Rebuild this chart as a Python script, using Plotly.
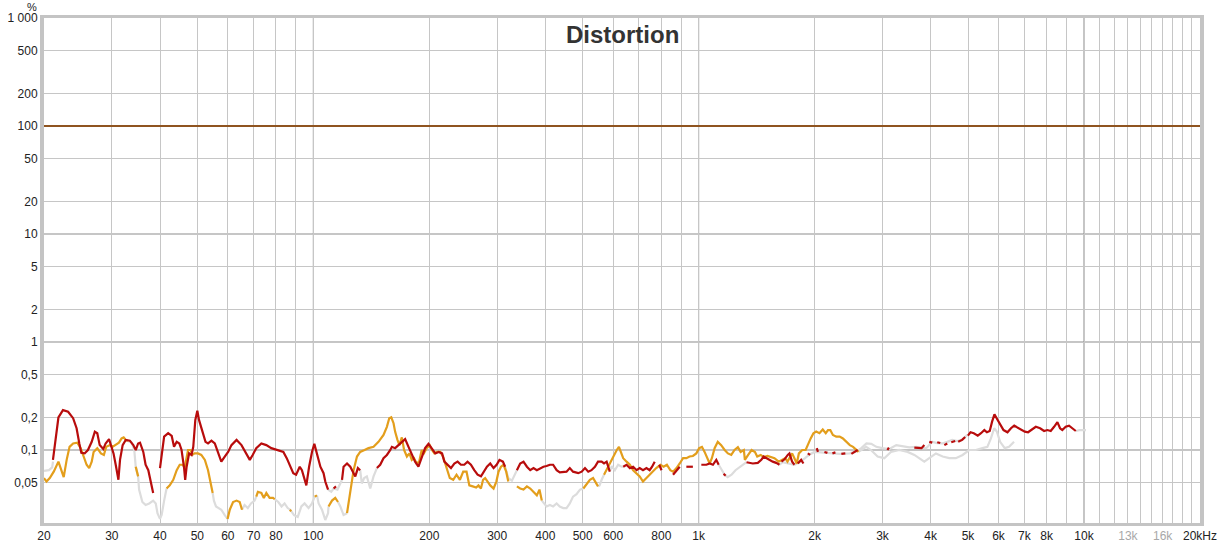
import plotly.graph_objects as go

# ---------------- data (Hz, %) ----------------
red_freq = [21.1, 21.5, 21.8, 22.4, 23.1, 23.8, 24.3, 24.7, 25.0, 25.5, 26.0, 26.6, 27.1, 27.5, 27.9, 28.5, 28.9, 29.5, 29.9,
            30.3, 30.7, 31.2, 31.5, 32.0, 32.6, 33.4, 34.1, 34.6, 35.1, 35.5, 36.2, 36.7, 37.3, 37.9, 38.4, None,
            40.0, 41.0, 42.0, 42.9, 43.5, 44.2, 44.9, 45.5, 46.2, 46.5, 46.9, 47.6, 48.3, 48.8, 49.4, 50.0, 50.5, 51.5,
            52.5, 53.3, 54.4, 55.5, 56.6, 57.7, 58.9, 60.1, 61.3, 63.2, 65.1, 67.1, 68.4, 69.6, 71.1, 73.3, 75.5, 77.8,
            81.1, 83.6, 85.3, 87.0, 88.7, 90.2, 92.2, 93.4, 94.6, 95.9, 97.5, 99.2, 100.6, 102.2, 104.3, 106.3, 107.4,
            109.2, None, 112.9, 114.5, None, 118.7, 119.8, 122.3, 124.7, 127.2, 128.5, 130.5, 132.3, None,
            146.2, 149.1, 152.1, 155.2, 158.4, 159.9, 163.0, 166.3, 169.7, 173.1, 176.6, 180.1, 183.7, 187.4, 191.1,
            195.0, 199.0, 203.2, 207.3, 211.5, 215.8, 218.8, 223.1, 227.6, 232.2, 236.8, 241.6, 246.4, 251.3, 256.4,
            261.6, 266.9, 272.3, 277.7, 282.2, 287.8, 293.6, 299.0, 304.1, 310.4, 314.6, None,
            337.5, 344.2, 351.1, 358.3, 365.5, 372.7, 380.2, 387.7, 395.5, 403, 411, 419, 428, 436, 445, 454, 463, 472,
            487, 497, 507, 517, 527, 538, 548, 560, 568, 577, 588, None,
            637, 650, 663, 676, 690, 703, 717, 732, 746, 757, 769, None, 790, 801, None, 858, 876, 893, None,
            929, 966, None, 1016, 1047, 1068, 1089, 1111, 1127, None, 1160, 1175, None,
            1331, 1382, 1424, 1454, 1474, 1497, 1527, 1557, 1589, 1621, None, 1640, 1670, 1703, 1720, 1748, 1772, None,
            1808, 1845, 1870, None, 1919, 1947, None, 2025, 2040, None, 2120, 2158, None, 2224, 2264, None,
            2346, 2402, None, 2490, 2536, 2586, None, 3089, 3117, None, 3628, 3700, 3788, 3852, None, 3967, 4038, None,
            4160, 4236, None, 4340, 4417, None, 4524, 4632, None, 4715, 4827, 4916, None,
            4996, 5075, 5176, 5300, 5404, 5513, 5599, 5693, 5774, 5856, 5948, 6061, 6182, 6331, 6463, 6590, 6749,
            6883, 7021, 7159, 7302, 7497, 7693, 7878, 8034, 8197, 8363, 8530, 8666, 8785, 8965, 9146, 9325, 9521]
red_val = [0.081, 0.144, 0.200, 0.234, 0.226, 0.197, 0.159, 0.115, 0.094, 0.093, 0.100, 0.119, 0.148, 0.143, 0.111, 0.102,
           0.115, 0.126, 0.107, 0.093, 0.073, 0.053, 0.081, 0.111, 0.124, 0.122, 0.111, 0.100, 0.115, 0.117, 0.096, 0.073,
           0.065, 0.051, 0.040, None,
           0.068, 0.133, 0.143, 0.135, 0.107, 0.119, 0.115, 0.100, 0.068, 0.053, 0.070, 0.093, 0.090, 0.107, 0.190, 0.231,
           0.190, 0.148, 0.119, 0.115, 0.122, 0.115, 0.096, 0.078, 0.087, 0.096, 0.111, 0.124, 0.111, 0.090, 0.081, 0.090,
           0.104, 0.115, 0.111, 0.104, 0.100, 0.096, 0.084, 0.070, 0.061, 0.059, 0.070, 0.065, 0.055, 0.047, 0.070, 0.096,
           0.114, 0.093, 0.070, 0.061, 0.051, 0.043, None, 0.044, 0.046, None, 0.053, 0.070, 0.075, 0.070, 0.061, 0.057,
           0.068, 0.065, None,
           0.068, 0.073, 0.084, 0.090, 0.100, 0.107, 0.104, 0.111, 0.119, 0.126, 0.107, 0.090, 0.078, 0.070, 0.084,
           0.104, 0.114, 0.104, 0.093, 0.096, 0.093, 0.078, 0.073, 0.068, 0.075, 0.078, 0.073, 0.073, 0.078, 0.073,
           0.065, 0.059, 0.057, 0.063, 0.070, 0.075, 0.068, 0.073, 0.081, 0.078, 0.070, None,
           0.065, 0.075, 0.078, 0.070, 0.065, 0.068, 0.065, 0.068, 0.070, 0.071, 0.073, 0.073, 0.065, 0.062, 0.063, 0.063,
           0.068, 0.063, 0.061, 0.063, 0.068, 0.063, 0.065, 0.070, 0.078, 0.078, 0.075, 0.078, 0.063, None,
           0.070, 0.073, 0.068, 0.070, 0.065, 0.068, 0.065, 0.068, 0.065, 0.070, 0.078, None, 0.073, 0.065, None,
           0.059, 0.065, 0.070, None,
           0.070, 0.070, None, 0.073, 0.073, 0.075, 0.073, 0.081, 0.073, None, 0.060, 0.058, None,
           0.077, 0.075, 0.076, 0.081, 0.087, 0.084, 0.081, 0.078, 0.076, 0.073, None, 0.078, 0.082, 0.090, 0.093, 0.078,
           0.073, None, 0.075, 0.081, 0.075, None, 0.093, 0.090, None, 0.104, 0.096, None, 0.096, 0.094, None,
           0.093, 0.095, None, 0.092, 0.093, None, 0.092, 0.096, 0.100, None, 0.100, 0.105, None, 0.105, 0.104, 0.104,
           0.111, None, 0.119, 0.117, None, 0.118, 0.116, None, 0.111, 0.115, None, 0.118, 0.121, None, 0.119, 0.124,
           0.132, None,
           0.136, 0.146, 0.143, 0.136, 0.143, 0.153, 0.146, 0.150, 0.183, 0.214, 0.194, 0.170, 0.153, 0.146, 0.159, 0.168,
           0.161, 0.156, 0.148, 0.146, 0.153, 0.164, 0.159, 0.150, 0.153, 0.150, 0.164, 0.181, 0.159, 0.153, 0.164,
           0.168, 0.159, 0.150]

orange_freq = [20.0, 20.3, 20.7, 21.2, 21.8, 22.2, 22.5, 22.9, 23.3, 23.8, 24.4, 24.9, 25.3, 25.8, 26.2, 26.6, 26.9,
               27.5, 28.1, 28.6, 29.0, 29.7, 30.1, 30.7, 31.3, 31.8, 32.2, 32.6, 33.0, None, 34.6, 35.1, None,
               41.6, 42.4, 43.3, 44.2, 45.0, 45.7, 46.4, 46.9, 47.3, 48.0, 48.5, 49.2, 50.2, 51.2, 52.3, 53.3, 54.1,
               54.8, None, 59.9, 60.7, 61.9, 63.2, 64.4, 65.3, None, 71.1, 71.8, 73.3, 74.4, 75.5, 77.0, 78.6, 79.4,
               None, 86.9, 87.6, None, 100.8, 102.2, None, 109.5, 111.8, 114.0, 115.9, None,
               122.3, 124.7, 127.2, 129.8, 132.3, 135.8, 139.0, 143.3, 147.6, 152.1, 155.2, 157.4, 159.3, 161.5, 163.0,
               165.3, 167.3, 169.7, 172.0, 174.9, 177.6, 180.1, 182.5, 185.4, 188.2, 191.1, 193.6, 196.8, 200.4, 203.2,
               206.1, 209.4, 213.6, 217.0, 221.5, 226.0, 230.7, 235.3, 240.1, 244.9, 249.8, 254.0, 259.2, 264.6, 268.2,
               272.2, 275.7, 279.2, 283.3, 287.8, 293.6, 298.5, 302.4, 306.9, 311.6, 316.6, 320.6, None,
               337.5, 344.2, 351.1, 358.3, 365.5, 372.7, 380.2, 386.2, 391.7, None,
               502, 512, 522, 532, 543, 548, None,
               568, 582, 594, 604, 613, 621, 628, 637, 650, 663, 676, 690, 703, 717, 732, 746, 761, 776, 796, 811, 827,
               844, 858, 876, 893, 911, 929, 947, 966, 986, 1003, 1020, 1036, 1053, 1068, 1082, 1100, 1121, 1144, 1168,
               1191, 1215, 1239, 1264, 1285, 1310, 1318, 1344, 1372, 1400, 1419, 1449, 1474, 1509, 1536, 1573, 1613,
               1645, 1677, 1700, 1725, 1748, 1772, 1797, 1820, 1857, 1895, 1925, 1953, 1985, 2018, 2058, 2099, 2137,
               2166, 2196, 2230, 2276, 2322, 2368, 2415, 2467, 2516, 2566, 2600]
orange_val = [0.055, 0.051, 0.055, 0.063, 0.078, 0.063, 0.056, 0.081, 0.107, 0.115, 0.117, 0.104, 0.090, 0.073, 0.068,
              0.078, 0.096, 0.104, 0.093, 0.090, 0.107, 0.111, 0.107, 0.111, 0.117, 0.128, 0.131, 0.124, 0.121, None,
              0.070, 0.057, None,
              0.044, 0.047, 0.053, 0.065, 0.073, 0.073, 0.070, 0.087, 0.100, 0.100, 0.090, 0.093, 0.093, 0.090, 0.081,
              0.065, 0.051, 0.040, None, 0.023, 0.028, 0.033, 0.034, 0.033, 0.028, None, 0.037, 0.041, 0.040, 0.036,
              0.040, 0.036, 0.036, 0.035, None, 0.028, 0.027, None, 0.037, 0.038, None, 0.030, 0.034, 0.036, 0.033, None,
              0.026, 0.043, 0.065, 0.087, 0.096, 0.100, 0.104, 0.107, 0.119, 0.138, 0.164, 0.197, 0.201, 0.177, 0.148,
              0.124, 0.111, 0.131, 0.100, 0.087, 0.093, 0.081, 0.084, 0.075, 0.078, 0.100, 0.093, 0.104, 0.111, 0.100,
              0.093, 0.096, 0.096, 0.087, 0.068, 0.055, 0.053, 0.059, 0.053, 0.063, 0.063, 0.047, 0.046, 0.045, 0.047,
              0.044, 0.053, 0.055, 0.051, 0.047, 0.044, 0.051, 0.063, 0.070, 0.073, 0.063, 0.051, None,
              0.046, 0.044, 0.043, 0.046, 0.044, 0.041, 0.038, 0.043, 0.034, None,
              0.044, 0.049, 0.053, 0.055, 0.049, 0.046, None,
              0.059, 0.070, 0.081, 0.093, 0.100, 0.107, 0.096, 0.084, 0.078, 0.073, 0.065, 0.061, 0.057, 0.051, 0.055,
              0.059, 0.063, 0.068, 0.073, 0.070, 0.073, 0.065, 0.063, 0.068, 0.075, 0.084, 0.084, 0.087, 0.088, 0.093,
              0.104, 0.107, 0.096, 0.084, 0.075, 0.084, 0.104, 0.119, 0.111, 0.100, 0.093, 0.090, 0.100, 0.106, 0.096,
              0.100, 0.081, 0.090, 0.100, 0.096, 0.087, 0.090, 0.086, 0.088, 0.086, 0.084, 0.078, 0.081, 0.084, 0.078,
              0.087, 0.093, 0.084, 0.075, 0.093, 0.100, 0.100, 0.115, 0.128, 0.143, 0.148, 0.143, 0.155, 0.143, 0.153,
              0.153, 0.138, 0.133, 0.133, 0.128, 0.119, 0.111, 0.107, 0.100, 0.096]

grey_freq = [20.0, 20.6, 21.0, 21.1, None,
             33.0, 33.7, 34.3, 34.6, 35.1, 35.3, 36.0, 36.7, 37.5, 38.4, 39.0, 39.4, 40.0, 40.4, 41.0, 41.6, None,
             54.8, 55.2, 55.9, 56.6, 57.7, 58.9, 59.9, None, 65.3, 66.3, 67.6, 68.9, 70.4, 71.1, None,
             79.4, 81.1, 82.7, 84.2, 85.8, 87.1, 89.1, 91.1, 93.1, 94.9, 97.2, 99.2, 100.8, None,
             102.2, 103.2, 105.3, 107.4, 109.2, 109.5, None, 115.9, 117.5, 119.8, 122.3, None,
             109.2, 111.3, 112.9, 115.5, 118.7, None,
             132.3, 133.6, 135.5, 137.7, 140.5, 143.3, 146.2, None,
             314.6, 320.6, 327.6, 337.5, None,
             391.7, 403, 411, 419, 428, 436, 445, 454, 463, 472, 482, 492, 502, None, 548, 553, 560, 568, None,
             588, 595, 606, 618, 631, 637, None,
             1127, 1148, 1168, 1189, 1217, 1246, 1277, 1309, 1331, None,
             1621, 1652, 1772, 1826, 1889, 1932, 1997, 2058, 2188, 2322, 2467, 2580, 2643, 2725, 2806, 2891, 2996, 3124,
             3257, 3375, 3520, 3673, 3803, 3896, 4038, 4160, 4287, 4417, 4551, 4689, 4830, 4976, None,
             2600, 2720, 2800, 2913, 3032, 3155, 3316, 3484, 3629, 3735, 3851, 3967, 4128, 4297, 4469, 4651, 4842,
             5036, 5240, 5451, 5614, 5733, 5847, 5941, 6058, 6227, 6390, 6583, None,
             9521, 9730, 10000, 10120]
grey_val = [0.064, 0.065, 0.069, 0.078, None,
            0.121, 0.119, 0.100, 0.070, 0.057, 0.043, 0.033, 0.031, 0.032, 0.034, 0.032, 0.026, 0.023, 0.025, 0.034,
            0.044, None,
            0.040, 0.034, 0.030, 0.029, 0.028, 0.025, 0.023, None, 0.028, 0.031, 0.029, 0.032, 0.034, 0.037, None,
            0.035, 0.033, 0.030, 0.032, 0.029, 0.028, 0.025, 0.024, 0.030, 0.032, 0.029, 0.032, 0.037, None,
            0.038, 0.032, 0.028, 0.0225, 0.026, 0.030, None, 0.033, 0.030, 0.025, 0.026, None,
            0.043, 0.041, 0.044, 0.043, 0.053, None,
            0.065, 0.049, 0.055, 0.057, 0.044, 0.057, 0.068, None,
            0.070, 0.055, 0.052, 0.065, None,
            0.034, 0.030, 0.031, 0.030, 0.032, 0.030, 0.029, 0.029, 0.032, 0.037, 0.039, 0.043, 0.044, None,
            0.046, 0.047, 0.053, 0.059, None,
            0.063, 0.071, 0.065, 0.073, 0.070, 0.070, None,
            0.073, 0.065, 0.059, 0.056, 0.059, 0.065, 0.070, 0.074, 0.077, None,
            0.073, 0.077, 0.073, 0.077, 0.084, 0.090, 0.096, 0.095, 0.093, 0.092, 0.093, 0.098, 0.104, 0.115, 0.114,
            0.107, 0.104, 0.102, 0.111, 0.109, 0.106, 0.107, 0.104, 0.104, 0.119, 0.116, 0.115, 0.119, 0.124, 0.121,
            0.124, 0.138, None,
            0.096, 0.107, 0.100, 0.087, 0.084, 0.096, 0.100, 0.096, 0.090, 0.084, 0.078, 0.084, 0.093, 0.087, 0.084,
            0.084, 0.090, 0.100, 0.100, 0.104, 0.107, 0.128, 0.159, 0.148, 0.119, 0.104, 0.107, 0.119, None,
            0.150, 0.153, 0.153, 0.153]

LIMIT_LINE = 100

x_tick_vals = [20, 30, 40, 50, 60, 70, 80, 100, 200, 300, 400, 500, 600, 800, 1000, 2000, 3000, 4000, 5000, 6000,
               7000, 8000, 10000, 13000, 16000, 20000]
x_tick_text = ["20", "30", "40", "50", "60", "70", "80", "100", "200", "300", "400", "500", "600", "800", "1k",
               "2k", "3k", "4k", "5k", "6k", "7k", "8k", "10k",
               "<span style='color:#a8a8a8'>13k</span>", "<span style='color:#a8a8a8'>16k</span>", "20kHz"]
x_minor_vals = [90, 700, 900, 9000, 11000, 12000, 14000, 15000, 17000, 18000, 19000]
x_major_lines = [100, 1000, 10000]

y_tick_vals = [1000, 500, 200, 100, 50, 20, 10, 5, 2, 1, 0.5, 0.2, 0.1, 0.05]
y_tick_text = ["1 000", "500", "200", "100", "50", "20", "10", "5", "2", "1", "0,5", "0,2", "0,1", "0,05"]
y_major_lines = [10, 1, 0.1]

# ---------------- figure ----------------
fig = go.Figure()
fig.add_trace(go.Scatter(x=grey_freq, y=grey_val, mode="lines", line=dict(color="#dcdcdc", width=2.2),
                         connectgaps=False, hoverinfo="skip", showlegend=False))
fig.add_trace(go.Scatter(x=orange_freq, y=orange_val, mode="lines", line=dict(color="#e39e1c", width=2.2),
                         connectgaps=False, showlegend=False))
fig.add_trace(go.Scatter(x=red_freq, y=red_val, mode="lines", line=dict(color="#b80c0c", width=2.2),
                         connectgaps=False, showlegend=False))

for xv in x_major_lines:
    fig.add_shape(type="line", xref="x", yref="paper", x0=xv, x1=xv, y0=0, y1=1,
                  line=dict(color="#8a8a8a", width=1), layer="between")
for yv in y_major_lines:
    fig.add_shape(type="line", xref="paper", yref="y", x0=0, x1=1, y0=yv, y1=yv,
                  line=dict(color="#8a8a8a", width=1), layer="between")
fig.add_shape(type="line", xref="paper", yref="y", x0=0, x1=1, y0=LIMIT_LINE, y1=LIMIT_LINE,
              line=dict(color="#8f5420", width=2), layer="above")

font_family = "Liberation Sans, Arial, sans-serif"
fig.update_layout(
    template="none",
    width=1222, height=546,
    margin=dict(l=44, r=22, t=18, b=23, pad=0),
    paper_bgcolor="white", plot_bgcolor="white",
    font=dict(family=font_family, size=12, color="#222222"),
    showlegend=False,
)
fig.update_xaxes(
    type="log", range=[1.30103, 4.30103], autorange=False,
    tickmode="array", tickvals=x_tick_vals, ticktext=x_tick_text,
    showgrid=True, gridcolor="#c6c6c6", gridwidth=1,
    minor=dict(tickvals=x_minor_vals, showgrid=True, gridcolor="#c6c6c6", gridwidth=1, ticks=""),
    ticks="", showline=True, mirror=True, linecolor="#c4c4c4", linewidth=3,
    zeroline=False, automargin=False, tickfont=dict(size=12, color="#222222"),
)
fig.update_yaxes(
    type="log", range=[-1.676, 3.0005], autorange=False,
    tickmode="array", tickvals=y_tick_vals, ticktext=y_tick_text,
    showgrid=True, gridcolor="#c6c6c6", gridwidth=1,
    ticks="", showline=True, mirror=True, linecolor="#c4c4c4", linewidth=4,
    zeroline=False, automargin=False, tickfont=dict(size=12, color="#222222"),
)
fig.add_annotation(text="<b>Distortion</b>", xref="paper", yref="paper", x=0.5, y=0.968,
                   xanchor="center", yanchor="middle", showarrow=False,
                   font=dict(family=font_family, size=24, color="#333333"))
fig.add_annotation(text="%", xref="paper", yref="paper", x=-0.0104, y=1.0208,
                   xanchor="center", yanchor="middle", showarrow=False,
                   font=dict(family=font_family, size=11, color="#222222"))

fig.write_html("out.html", config={"displayModeBar": False},
               post_script="document.body.style.margin='0';document.body.style.overflow='hidden';")
